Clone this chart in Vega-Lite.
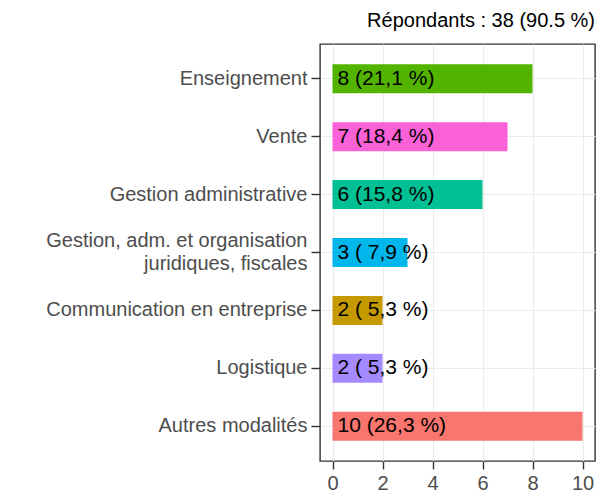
{
  "$schema": "https://vega.github.io/schema/vega-lite/v6.json",
  "autosize": {"type": "none"},
  "padding": {"left": 320, "top": 44, "right": 19, "bottom": 31},
  "width": 275,
  "height": 417,
  "background": "white",
  "title": {"text": "Répondants : 38 (90.5 %)", "anchor": "end", "frame": "group", "baseline": "alphabetic", "offset": -3, "fontSize": 20, "fontWeight": "normal", "font": "Liberation Sans", "color": "black"},
  "config": {
    "font": "Liberation Sans",
    "view": {"stroke": "#333333", "strokeWidth": 1.4},
    "axis": {"domain": false, "labelFont": "Liberation Sans", "labelFontSize": 20, "labelColor": "#4D4D4D", "tickColor": "#333333", "tickWidth": 1.4, "gridColor": "#EBEBEB", "title": null}
  },
  "data": {"values": [
    {"cat": "Enseignement", "n": 8, "label": "8 (21,1 %)"},
    {"cat": "Vente", "n": 7, "label": "7 (18,4 %)"},
    {"cat": "Gestion administrative", "n": 6, "label": "6 (15,8 %)"},
    {"cat": "Gestion, adm. et organisation\njuridiques, fiscales", "n": 3, "label": "3 ( 7,9 %)"},
    {"cat": "Communication en entreprise", "n": 2, "label": "2 ( 5,3 %)"},
    {"cat": "Logistique", "n": 2, "label": "2 ( 5,3 %)"},
    {"cat": "Autres modalités", "n": 10, "label": "10 (26,3 %)"}
  ]},
  "encoding": {
    "y": {"field": "cat", "type": "nominal",
      "sort": ["Enseignement", "Vente", "Gestion administrative", "Gestion, adm. et organisation\njuridiques, fiscales", "Communication en entreprise", "Logistique", "Autres modalités"],
      "scale": {"paddingInner": 0.5, "paddingOuter": 0.35},
      "axis": {"grid": true, "bandPosition": 0.5, "gridWidth": 1.1, "tickSize": 9, "labelPadding": 4, "labelExpr": "split(datum.label, '\\n')", "labelLineHeight": 23, "labelLimit": 400,
        "labelOffset": {"condition": {"test": "indexof(datum.value, 'fiscales') >= 0", "value": -11.5}, "value": 0}}
    }
  },
  "layer": [
    {
      "mark": {"type": "bar"},
      "encoding": {
        "x": {"field": "n", "type": "quantitative",
          "scale": {"domain": [-0.5, 10.5], "nice": false, "zero": false},
          "axis": {"values": [0, 1, 2, 3, 4, 5, 6, 7, 8, 9, 10], "labelExpr": "datum.value % 2 === 0 ? datum.label : ''",
            "gridWidth": {"condition": {"test": "datum.value % 2 === 1", "value": 0.55}, "value": 1.1},
            "tickOpacity": {"condition": {"test": "datum.value % 2 === 1", "value": 0}, "value": 1},
            "tickSize": 8, "labelPadding": 4}
        },
        "color": {"field": "cat", "type": "nominal", "legend": null,
          "scale": {"domain": ["Autres modalités", "Communication en entreprise", "Enseignement", "Gestion administrative", "Gestion, adm. et organisation\njuridiques, fiscales", "Logistique", "Vente"],
            "range": ["#F8766D", "#C49A00", "#53B400", "#00C094", "#00B6EB", "#A58AFF", "#FB61D7"]}}
      }
    },
    {
      "mark": {"type": "text", "align": "left", "baseline": "middle", "dx": 5, "fontSize": 21, "font": "Liberation Sans", "color": "black"},
      "encoding": {
        "x": {"datum": 0, "type": "quantitative"},
        "text": {"field": "label"}
      }
    }
  ]
}
